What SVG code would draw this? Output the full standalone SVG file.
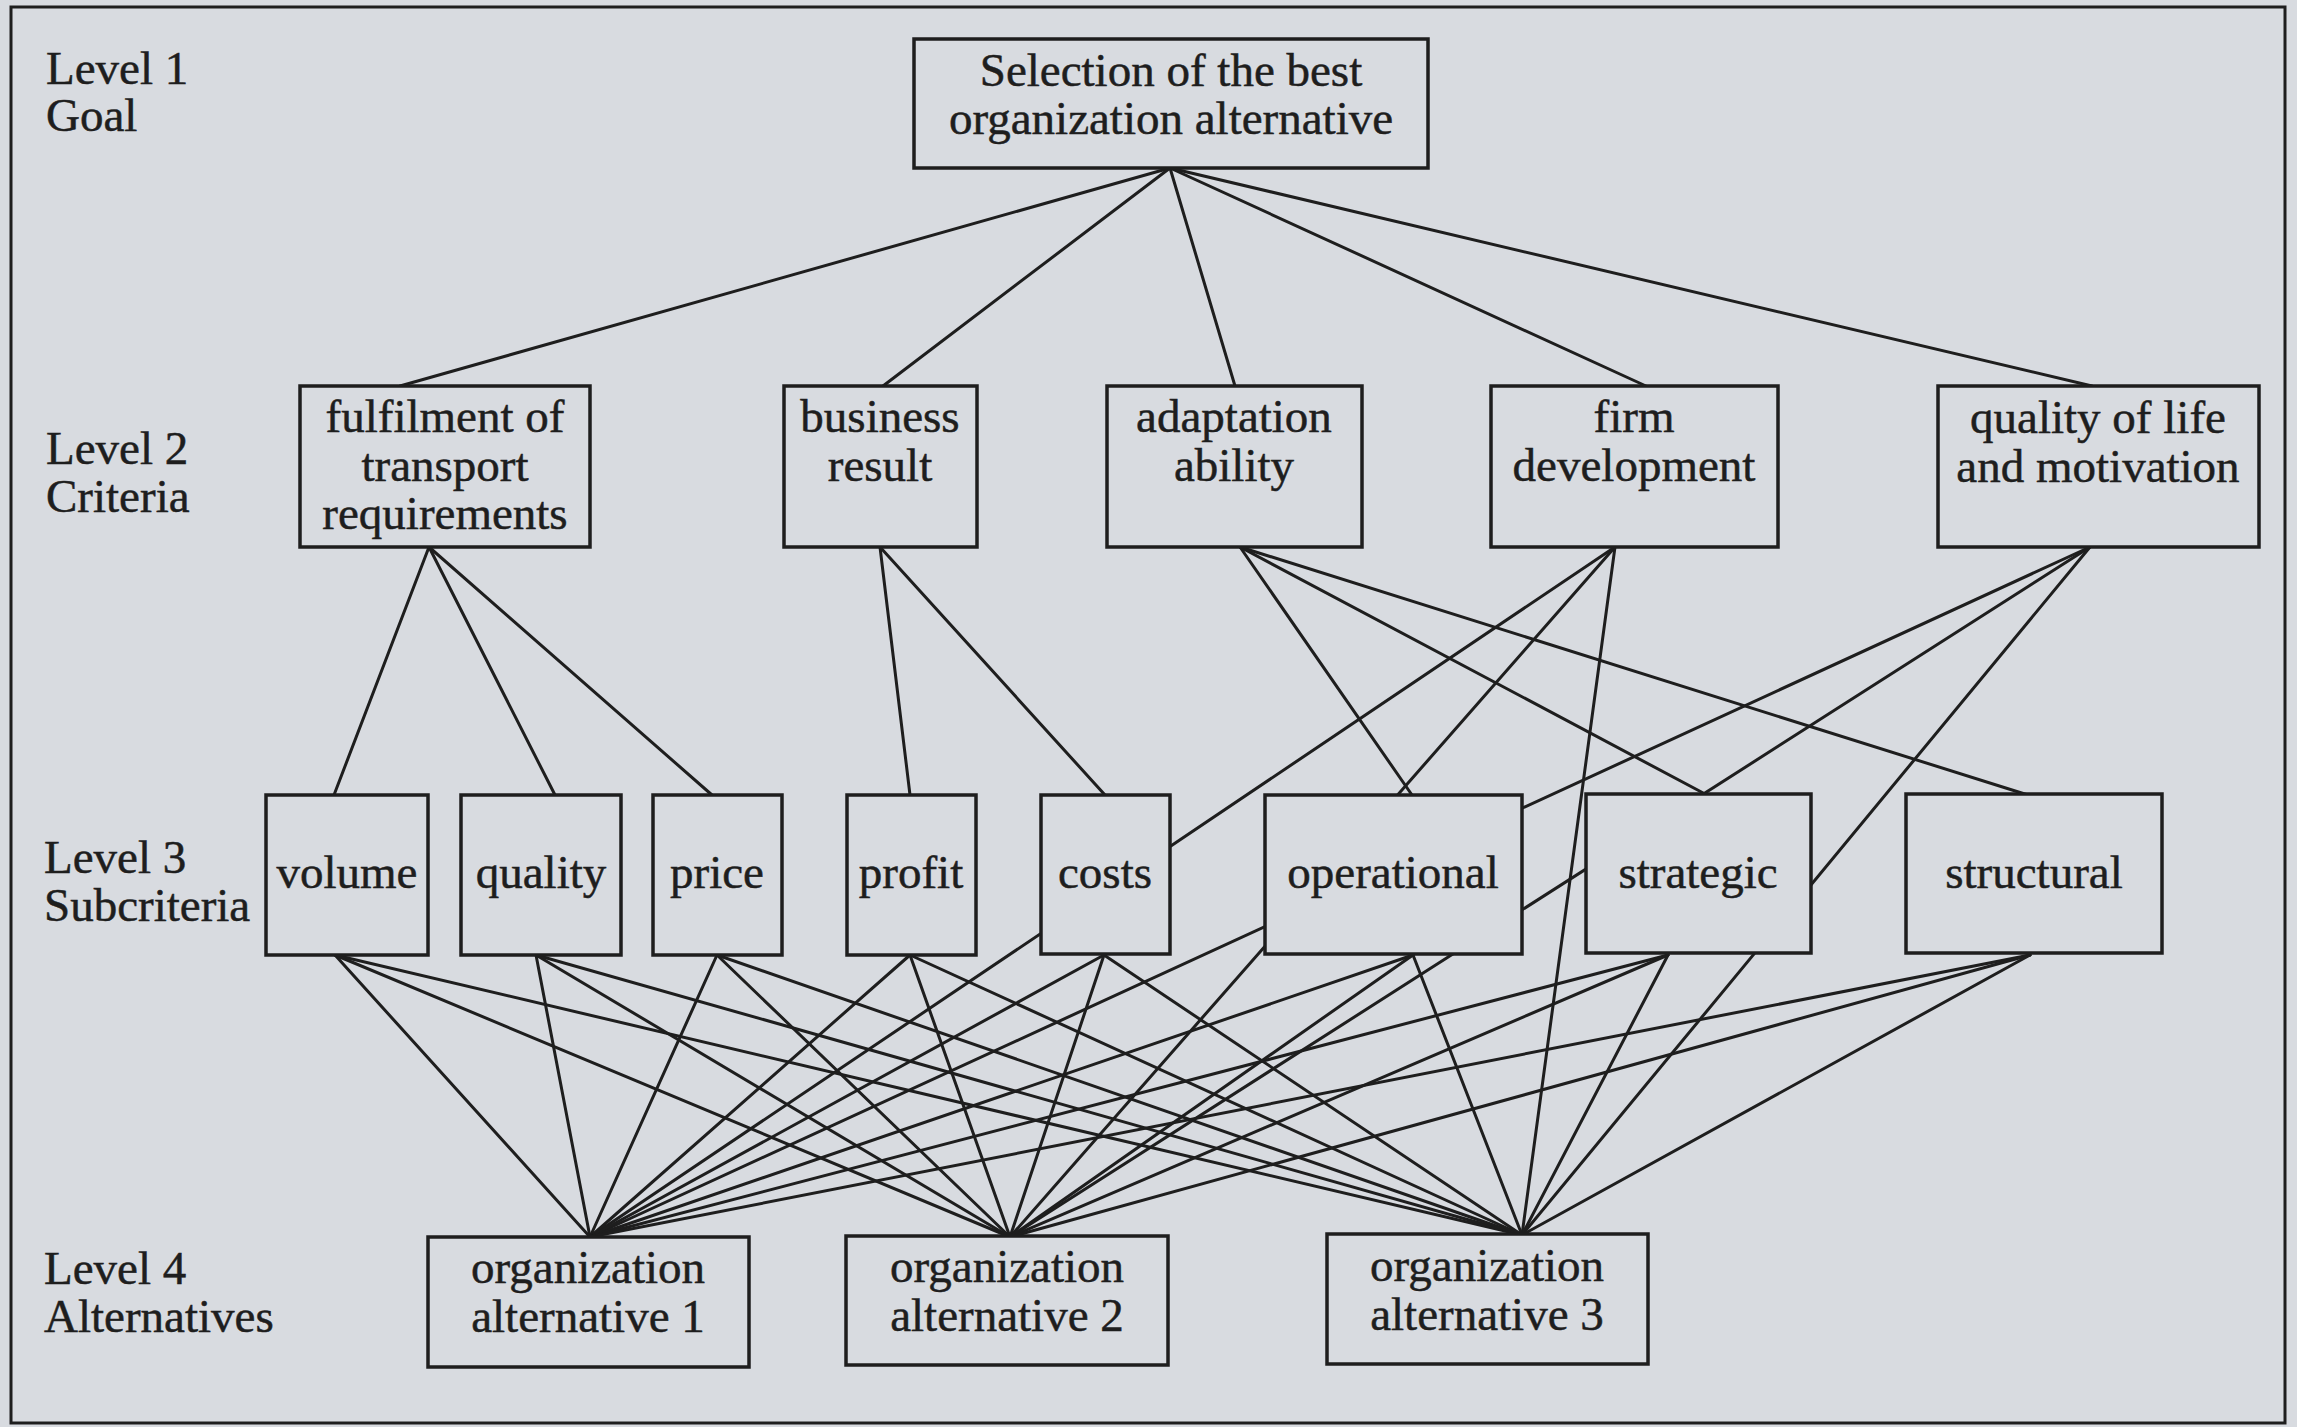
<svg xmlns="http://www.w3.org/2000/svg" width="2297" height="1427" viewBox="0 0 2297 1427">
<style>
  .bg { fill: #d8dbe0; }
  .frame { fill: none; stroke: #1e1e1e; stroke-width: 3; }
  .box { fill: #d8dbe0; stroke: #1e1e1e; stroke-width: 3.5; }
  .c line { stroke: #1e1e1e; stroke-width: 3; stroke-linecap: round; }
  text { font-family: "Liberation Serif", "Times New Roman", serif; font-size: 47px; fill: #1e1e1e; stroke: #1e1e1e; stroke-width: 0.5; }
  .ctr { text-anchor: middle; }
</style>
<rect class="bg" x="0" y="0" width="2297" height="1427"/>
<rect class="frame" x="11" y="7" width="2274" height="1416"/>

<g id="level-labels">
  <text x="46" y="84">Level 1</text>
  <text x="46" y="131">Goal</text>
  <text x="46" y="464">Level 2</text>
  <text x="46" y="512">Criteria</text>
  <text x="44" y="873">Level 3</text>
  <text x="44" y="921">Subcriteria</text>
  <text x="44" y="1284">Level 4</text>
  <text x="44" y="1332">Alternatives</text>
</g>

<g id="connectors" class="c">
  <!-- goal to criteria -->
  <line x1="1170" y1="168" x2="400" y2="386"/>
  <line x1="1170" y1="168" x2="883" y2="386"/>
  <line x1="1170" y1="168" x2="1235" y2="386"/>
  <line x1="1170" y1="168" x2="1646" y2="386"/>
  <line x1="1170" y1="168" x2="2092" y2="386"/>
  <!-- criteria to subcriteria -->
  <line x1="429" y1="547" x2="334" y2="795"/>
  <line x1="429" y1="547" x2="555" y2="795"/>
  <line x1="429" y1="547" x2="712" y2="795"/>
  <line x1="880" y1="547" x2="910" y2="795"/>
  <line x1="880" y1="547" x2="1105" y2="795"/>
  <line x1="1240" y1="547" x2="1412" y2="795"/>
  <line x1="1240" y1="547" x2="1707" y2="795"/>
  <line x1="1240" y1="547" x2="2028" y2="795"/>
  <!-- criteria to alternatives -->
  <line x1="1615" y1="547" x2="590" y2="1237"/>
  <line x1="1615" y1="547" x2="1010" y2="1237"/>
  <line x1="1615" y1="547" x2="1522" y2="1235"/>
  <line x1="2090" y1="547" x2="590" y2="1237"/>
  <line x1="2090" y1="547" x2="1010" y2="1237"/>
  <line x1="2090" y1="547" x2="1522" y2="1235"/>
  <!-- subcriteria to alternatives -->
  <line x1="335" y1="955" x2="590" y2="1237"/>
  <line x1="335" y1="955" x2="1010" y2="1237"/>
  <line x1="335" y1="955" x2="1522" y2="1235"/>
  <line x1="536" y1="955" x2="590" y2="1237"/>
  <line x1="536" y1="955" x2="1010" y2="1237"/>
  <line x1="536" y1="955" x2="1522" y2="1235"/>
  <line x1="717" y1="955" x2="590" y2="1237"/>
  <line x1="717" y1="955" x2="1010" y2="1237"/>
  <line x1="717" y1="955" x2="1522" y2="1235"/>
  <line x1="910" y1="955" x2="590" y2="1237"/>
  <line x1="910" y1="955" x2="1010" y2="1237"/>
  <line x1="910" y1="955" x2="1522" y2="1235"/>
  <line x1="1104" y1="955" x2="590" y2="1237"/>
  <line x1="1104" y1="955" x2="1010" y2="1237"/>
  <line x1="1104" y1="955" x2="1522" y2="1235"/>
  <line x1="1413" y1="955" x2="590" y2="1237"/>
  <line x1="1413" y1="955" x2="1010" y2="1237"/>
  <line x1="1413" y1="955" x2="1522" y2="1235"/>
  <line x1="1668" y1="955" x2="590" y2="1237"/>
  <line x1="1668" y1="955" x2="1010" y2="1237"/>
  <line x1="1668" y1="955" x2="1522" y2="1235"/>
  <line x1="2030" y1="955" x2="590" y2="1237"/>
  <line x1="2030" y1="955" x2="1010" y2="1237"/>
  <line x1="2030" y1="955" x2="1522" y2="1235"/>
</g>

<g id="goal">
  <rect class="box" x="914" y="39" width="514" height="129"/>
  <text class="ctr" x="1171" y="86">Selection of the best</text>
  <text class="ctr" x="1171" y="134">organization alternative</text>
</g>

<g id="crit-transport">
  <rect class="box" x="300" y="386" width="290" height="161"/>
  <text class="ctr" x="445" y="432">fulfilment of</text>
  <text class="ctr" x="445" y="481">transport</text>
  <text class="ctr" x="445" y="529">requirements</text>
</g>
<g id="crit-business">
  <rect class="box" x="784" y="386" width="193" height="161"/>
  <text class="ctr" x="880" y="432">business</text>
  <text class="ctr" x="880" y="481">result</text>
</g>
<g id="crit-adaptation">
  <rect class="box" x="1107" y="386" width="255" height="161"/>
  <text class="ctr" x="1234" y="432">adaptation</text>
  <text class="ctr" x="1234" y="481">ability</text>
</g>
<g id="crit-firm">
  <rect class="box" x="1491" y="386" width="287" height="161"/>
  <text class="ctr" x="1634" y="432">firm</text>
  <text class="ctr" x="1634" y="481">development</text>
</g>
<g id="crit-quality-life">
  <rect class="box" x="1938" y="386" width="321" height="161"/>
  <text class="ctr" x="2098" y="433">quality of life</text>
  <text class="ctr" x="2098" y="482">and motivation</text>
</g>

<g id="sub-volume">
  <rect class="box" x="266" y="795" width="162" height="160"/>
  <text class="ctr" x="347" y="888">volume</text>
</g>
<g id="sub-quality">
  <rect class="box" x="461" y="795" width="160" height="160"/>
  <text class="ctr" x="541" y="888">quality</text>
</g>
<g id="sub-price">
  <rect class="box" x="653" y="795" width="129" height="160"/>
  <text class="ctr" x="717" y="888">price</text>
</g>
<g id="sub-profit">
  <rect class="box" x="847" y="795" width="129" height="160"/>
  <text class="ctr" x="911" y="888">profit</text>
</g>
<g id="sub-costs">
  <rect class="box" x="1041" y="795" width="129" height="159"/>
  <text class="ctr" x="1105" y="888">costs</text>
</g>
<g id="sub-operational">
  <rect class="box" x="1265" y="795" width="257" height="159"/>
  <text class="ctr" x="1393" y="888">operational</text>
</g>
<g id="sub-strategic">
  <rect class="box" x="1586" y="794" width="225" height="159"/>
  <text class="ctr" x="1698" y="888">strategic</text>
</g>
<g id="sub-structural">
  <rect class="box" x="1906" y="794" width="256" height="159"/>
  <text class="ctr" x="2034" y="888">structural</text>
</g>

<g id="alt-1">
  <rect class="box" x="428" y="1237" width="321" height="130"/>
  <text class="ctr" x="588" y="1283">organization</text>
  <text class="ctr" x="588" y="1332">alternative 1</text>
</g>
<g id="alt-2">
  <rect class="box" x="846" y="1236" width="322" height="129"/>
  <text class="ctr" x="1007" y="1282">organization</text>
  <text class="ctr" x="1007" y="1331">alternative 2</text>
</g>
<g id="alt-3">
  <rect class="box" x="1327" y="1234" width="321" height="130"/>
  <text class="ctr" x="1487" y="1281">organization</text>
  <text class="ctr" x="1487" y="1330">alternative 3</text>
</g>
</svg>
